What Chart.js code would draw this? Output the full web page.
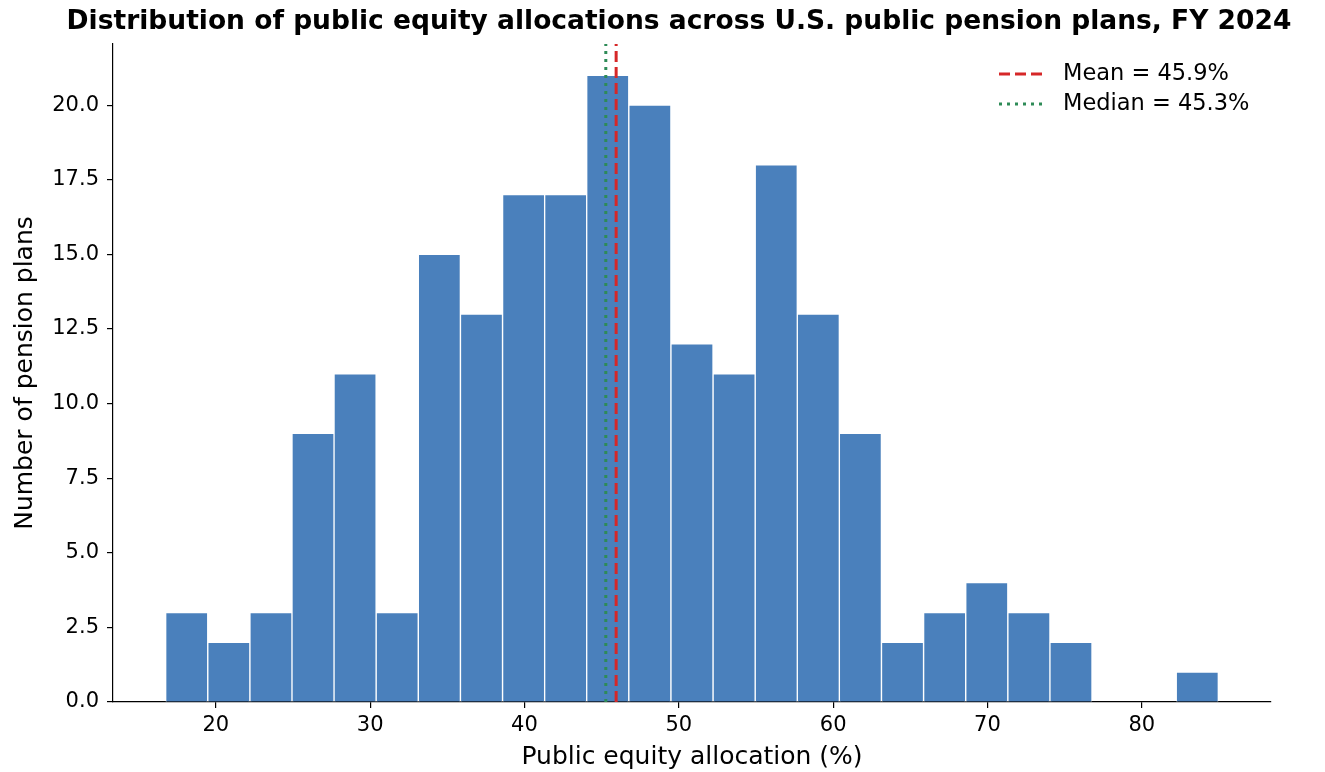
<!DOCTYPE html>
<html>
<head>
<meta charset="utf-8">
<title>Public equity allocations</title>
<script src="https://cdn.jsdelivr.net/npm/chart.js@4.4.1/dist/chart.umd.min.js"></script>
<style>
    html, body { margin: 0; padding: 0; background: #fff; }
    #wrap { width: 1325px; height: 772px; position: relative; }
</style>
</head>
<body>
<div id="wrap"><canvas id="histChart"></canvas></div>
<script>
// Histogram data
const binEdges = [16.75, 19.48, 22.21, 24.94, 27.66, 30.39, 33.12, 35.85, 38.58, 41.31,
    44.03, 46.76, 49.49, 52.22, 54.95, 57.68, 60.40, 63.13, 65.86, 68.59,
    71.32, 74.05, 76.77, 79.50, 82.23, 84.96];
const planCounts = [3, 2, 3, 9, 11, 3, 15, 13, 17, 17, 21, 20, 12, 11, 18, 13, 9, 2, 3, 4, 3, 2, 0, 0, 1];
const meanAllocation = 45.94;
const medianAllocation = 45.27;

const chartTitle = 'Distribution of public equity allocations across U.S. public pension plans, FY 2024';
const xAxisTitle = 'Public equity allocation (%)';
const yAxisTitle = 'Number of pension plans';

const fontFamily = '"DejaVu Sans", sans-serif';
const yMax = Math.max(...planCounts) * 1.05;
const xPad = (binEdges[binEdges.length - 1] - binEdges[0]) * 0.05;

// Bars sit at bin centres
const barPoints = planCounts.map((count, i) => ({
    x: (binEdges[i] + binEdges[i + 1]) / 2,
    y: count
}));

// Title drawn by hand so it can sit where the reference puts it
const titlePlugin = {
    id: 'figTitle',
    afterDraw(chart) {
        const ctx = chart.ctx;
        ctx.save();
        ctx.font = 'bold 26.5px ' + fontFamily;
        ctx.fillStyle = '#000';
        ctx.textAlign = 'center';
        ctx.textBaseline = 'alphabetic';
        ctx.fillText(chartTitle, 679, 29);
        ctx.restore();
    }
};

// Legend for the two reference lines, top right of the plot
const lineLegendPlugin = {
    id: 'lineLegend',
    afterDraw(chart) {
        const ctx = chart.ctx;
        const area = chart.chartArea;
        const x0 = area.right - 272;
        let y = area.top + 30;
        ctx.save();
        chart.data.datasets.forEach(ds => {
            if (ds.type !== 'line') return;
            ctx.beginPath();
            ctx.setLineDash(ds.borderDash);
            ctx.strokeStyle = ds.borderColor;
            ctx.lineWidth = ds.borderWidth;
            ctx.moveTo(x0, y);
            ctx.lineTo(x0 + 46, y);
            ctx.stroke();
            ctx.setLineDash([]);
            ctx.font = '22.5px ' + fontFamily;
            ctx.fillStyle = '#000';
            ctx.textAlign = 'left';
            ctx.textBaseline = 'middle';
            ctx.fillText(ds.label, x0 + 64, y);
            y += 30;
        });
        ctx.restore();
    }
};

// Render Chart
const ctx = document.getElementById('histChart').getContext('2d');
new Chart(ctx, {
    type: 'bar',
    data: {
        datasets: [{
            label: 'Plans',
            data: barPoints,
            backgroundColor: '#4a80bc',
            borderColor: '#ffffff',
            borderWidth: 1,
            barPercentage: 1,
            categoryPercentage: 1,
            order: 2
        }, {
            type: 'line',
            label: 'Mean = ' + meanAllocation.toFixed(1) + '%',
            data: [{x: meanAllocation, y: 0}, {x: meanAllocation, y: yMax}],
            borderColor: '#d62728',
            borderWidth: 3,
            borderDash: [11, 5],
            pointRadius: 0,
            order: 0
        }, {
            type: 'line',
            label: 'Median = ' + medianAllocation.toFixed(1) + '%',
            data: [{x: medianAllocation, y: 0}, {x: medianAllocation, y: yMax}],
            borderColor: '#2e8b57',
            borderWidth: 3,
            borderDash: [3, 5],
            pointRadius: 0,
            order: 1
        }]
    },
    options: {
        responsive: true,
        maintainAspectRatio: false,
        animation: false,
        devicePixelRatio: 1,
        layout: { padding: { top: 44, right: 54, bottom: 0, left: 0 } },
        plugins: {
            legend: { display: false },
            tooltip: { enabled: false },
            title: { display: false }
        },
        scales: {
            x: {
                type: 'linear',
                min: binEdges[0] - xPad,
                max: binEdges[binEdges.length - 1] + xPad,
                offset: false,
                grid: { offset: false, drawOnChartArea: false, drawTicks: true, tickLength: 6, color: '#000', lineWidth: 1.2 },
                border: { display: true, color: '#000', width: 1.2 },
                ticks: {
                    stepSize: 10,
                    includeBounds: false,
                    color: '#000',
                    padding: 5,
                    maxRotation: 0,
                    font: { family: fontFamily, size: 21 }
                },
                title: {
                    display: true,
                    text: xAxisTitle,
                    color: '#000',
                    padding: { top: 4, bottom: 0 },
                    font: { family: fontFamily, size: 25 }
                },
                afterFit(scale) { scale.height = 70; }
            },
            y: {
                type: 'linear',
                min: 0,
                max: yMax,
                grid: { drawOnChartArea: false, drawTicks: true, tickLength: 6, color: '#000', lineWidth: 1.2 },
                border: { display: true, color: '#000', width: 1.2 },
                ticks: {
                    stepSize: 2.5,
                    includeBounds: false,
                    color: '#000',
                    padding: 8,
                    font: { family: fontFamily, size: 21 },
                    callback: value => value.toFixed(1)
                },
                title: {
                    display: true,
                    text: yAxisTitle,
                    color: '#000',
                    padding: { top: 10, bottom: 0 },
                    font: { family: fontFamily, size: 25 }
                },
                afterFit(scale) { scale.width = 113; }
            }
        }
    },
    plugins: [titlePlugin, lineLegendPlugin]
});
</script>
</body>
</html>
